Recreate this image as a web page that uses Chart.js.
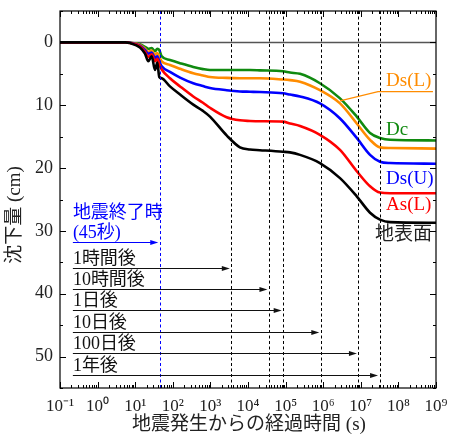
<!DOCTYPE html>
<html>
<head>
<meta charset="utf-8">
<script src="https://cdn.jsdelivr.net/npm/chart.js@4.4.0/dist/chart.umd.min.js"></script>
<style>
	html, body { margin: 0; padding: 0; background: #fff; }
	#wrap { width: 454px; height: 439px; }
</style>
</head>
<body>
<div id="wrap"><canvas id="chart" width="454" height="439"></canvas></div>
<script>
// elapsed time since the quake (s) and settlement (cm) of each layer
const times = [0.1, 5.4, 7.3, 13.4, 18.2, 22.3, 27.5, 33.6, 38.7, 43.7, 50.7, 84, 156, 350, 635, 975, 2700, 6100, 11300, 20700, 85000, 131000, 242000, 818000, 2.8e6, 7.8e6, 1.76e7, 3.24e7, 6e7, 1e9];
const surface = [0, 0, 0.1, 0.8, 1.8, 3.0, 2.2, 4.4, 3.2, 5.5, 5.7, 7.0, 8.3, 9.9, 10.9, 11.8, 14.8, 16.7, 17.05, 17.15, 17.4, 17.5, 17.9, 19.2, 21.6, 24.5, 27.1, 28.2, 28.6, 28.7];
const asL = [0, 0, 0.1, 0.6, 1.5, 2.3, 1.9, 3.0, 2.6, 3.5, 4.3, 5.7, 7.0, 8.6, 9.6, 10.4, 11.9, 12.4, 12.5, 12.55, 12.6, 12.9, 13.3, 14.7, 17.1, 20.5, 22.9, 23.9, 24.0, 24.0];
const dsU = [0, 0, 0.05, 0.5, 1.2, 1.8, 1.6, 2.5, 2.2, 3.0, 3.8, 4.7, 5.6, 6.5, 6.95, 7.25, 7.6, 7.8, 7.85, 7.9, 8.1, 8.3, 8.6, 9.7, 12.1, 15.2, 17.9, 19.0, 19.2, 19.3];
const dsL = [0, 0, 0.05, 0.4, 1.0, 1.5, 1.3, 2.0, 1.7, 2.3, 3.0, 3.6, 4.2, 4.9, 5.25, 5.5, 5.65, 5.7, 5.7, 5.7, 5.9, 6.0, 6.25, 7.6, 9.7, 12.9, 15.5, 16.7, 16.8, 16.9];
const dc = [0, 0, 0.05, 0.3, 0.7, 1.0, 0.9, 1.4, 1.0, 1.2, 2.2, 2.8, 3.3, 3.9, 4.25, 4.4, 4.4, 4.4, 4.4, 4.45, 4.6, 4.8, 5.0, 6.5, 8.9, 11.8, 14.4, 15.2, 15.5, 15.6];

const seriesNames = ["地表面", "As(L)", "Ds(U)", "Ds(L)", "Dc"];
const seriesValues = [surface, asL, dsU, dsL, dc];
const seriesColors = ["#000000", "#ff0000", "#0000ff", "#ff8c00", "#108a10"];

// reference moments: end of shaking, 1 h, 10 h, 1 day, 10 days, 100 days, 1 year
const markTimes = [45, 3600, 36000, 86400, 864000, 8640000, 31536000];
const markLabels = [["地震終了時", "(45秒)"], ["1時間後"], ["10時間後"], ["1日後"], ["10日後"], ["100日後"], ["1年後"]];
const arrowDepths = [31.8, 35.9, 39.3, 42.65, 46.1, 49.5, 52.9];
const arrowStart = 0.22;

const yTickValues = [0, 10, 20, 30, 40, 50];

const FONT = '"Liberation Serif", "Noto Sans CJK JP", serif';
const SUP = { "-": "⁻", "0": "⁰", "1": "¹", "2": "²", "3": "³", "4": "⁴", "5": "⁵", "6": "⁶", "7": "⁷", "8": "⁸", "9": "⁹" };

function isDecade(v) {
	const l = Math.log10(v);
	return Math.abs(l - Math.round(l)) < 1e-9;
}

// where the curve names sit: [time (s), depth (cm)]
const nameAnchors = [[2.4e7, 30.6], [4.7e7, 25.8], [4.7e7, 21.7], [4.7e7, 6.2], [4.7e7, 13.9]];

const overlay = {
	id: "overlay",
	beforeDatasetsDraw(chart) {
		const { ctx, chartArea: a, scales: { y } } = chart;
		ctx.save();
		ctx.strokeStyle = "#555";
		ctx.lineWidth = 1.5;
		const y0 = y.getPixelForValue(0);
		ctx.beginPath();
		ctx.moveTo(a.left, y0);
		ctx.lineTo(a.right, y0);
		ctx.stroke();
		ctx.restore();
	},
	afterDatasetsDraw(chart) {
		const { ctx, chartArea: a, scales: { x, y } } = chart;
		ctx.save();

		// dashed vertical lines
		ctx.lineWidth = 1;
		ctx.setLineDash([3, 2.5]);
		markTimes.forEach((t, i) => {
			const px = Math.round(x.getPixelForValue(t)) + 0.5;
			ctx.strokeStyle = i === 0 ? "#0000ff" : "#000";
			ctx.beginPath();
			ctx.moveTo(px, a.top);
			ctx.lineTo(px, a.bottom);
			ctx.stroke();
		});
		ctx.setLineDash([]);

		// arrows and their labels
		const x0 = x.getPixelForValue(arrowStart);
		ctx.font = `18px ${FONT}`;
		ctx.textAlign = "left";
		ctx.textBaseline = "middle";
		markTimes.forEach((t, i) => {
			const col = i === 0 ? "#0000ff" : "#111";
			const x1 = x.getPixelForValue(t) - 1.5;
			const py = Math.round(y.getPixelForValue(arrowDepths[i])) + 0.5;
			ctx.strokeStyle = col;
			ctx.fillStyle = col;
			ctx.beginPath();
			ctx.moveTo(x0, py);
			ctx.lineTo(x1 - 5, py);
			ctx.stroke();
			ctx.beginPath();
			ctx.moveTo(x1, py);
			ctx.lineTo(x1 - 8, py - 2.5);
			ctx.lineTo(x1 - 8, py + 2.5);
			ctx.closePath();
			ctx.fill();
			const lines = markLabels[i];
			lines.forEach((s, j) => {
				ctx.fillText(s, x0, py - 9.5 - (lines.length - 1 - j) * 20);
			});
		});

		// curve names
		ctx.font = `19px ${FONT}`;
		seriesNames.forEach((name, i) => {
			const [t, d] = nameAnchors[i];
			ctx.fillStyle = i === 0 ? "#222" : seriesColors[i];
			ctx.fillText(name, x.getPixelForValue(t), y.getPixelForValue(d));
		});

		// leader line for Ds(L)
		ctx.strokeStyle = seriesColors[3];
		ctx.lineWidth = 1.2;
		ctx.beginPath();
		ctx.moveTo(x.getPixelForValue(2.8e6), y.getPixelForValue(9.3));
		ctx.lineTo(x.getPixelForValue(2.87e7), y.getPixelForValue(7.84));
		ctx.lineTo(x.getPixelForValue(8.3e8), y.getPixelForValue(7.84));
		ctx.stroke();

		// frame and inward ticks
		ctx.strokeStyle = "#000";
		ctx.lineWidth = 1.2;
		ctx.strokeRect(a.left, a.top, a.right - a.left, a.bottom - a.top);
		ctx.lineWidth = 1;
		ctx.beginPath();
		x.ticks.forEach((tk) => {
			const px = Math.round(x.getPixelForValue(tk.value)) + 0.5;
			const len = isDecade(tk.value) ? 6 : 3;
			ctx.moveTo(px, a.bottom);
			ctx.lineTo(px, a.bottom - len);
			ctx.moveTo(px, a.top);
			ctx.lineTo(px, a.top + len);
		});
		y.ticks.forEach((tk) => {
			const py = Math.round(y.getPixelForValue(tk.value)) + 0.5;
			const len = tk.value % 10 === 0 ? 6 : 3;
			ctx.moveTo(a.left, py);
			ctx.lineTo(a.left + len, py);
			ctx.moveTo(a.right, py);
			ctx.lineTo(a.right - len, py);
		});
		ctx.stroke();

		// axis titles
		ctx.fillStyle = "#222";
		ctx.font = `19px ${FONT}`;
		ctx.textAlign = "center";
		ctx.fillText("地震発生からの経過時間 (s)", (a.left + a.right) / 2 + 1, 425);
		ctx.translate(15, 215);
		ctx.rotate(-Math.PI / 2);
		ctx.fillText("沈下量 (cm)", 0, 0);

		ctx.restore();
	},
};

new Chart(document.getElementById("chart"), {
	type: "line",
	data: {
		datasets: seriesNames.map((name, i) => ({
			label: name,
			data: times.map((t, k) => ({ x: t, y: seriesValues[i][k] })),
			borderColor: seriesColors[i],
			borderWidth: 2.6,
			pointRadius: 0,
			cubicInterpolationMode: "monotone",
			fill: false,
		})),
	},
	options: {
		responsive: false,
		animation: false,
		layout: { padding: { top: 11, right: 18, left: 0, bottom: 0 } },
		plugins: { legend: { display: false }, tooltip: { enabled: false } },
		scales: {
			x: {
				type: "logarithmic",
				min: 0.1,
				max: 1e9,
				grid: { display: false, drawTicks: false },
				border: { display: false },
				afterBuildTicks(scale) {
					const ticks = [];
					for (let k = -1; k < 9; k++) {
						for (let m = 1; m < 10; m++) ticks.push({ value: m * Math.pow(10, k) });
					}
					ticks.push({ value: 1e9 });
					scale.ticks = ticks;
				},
				afterFit(scale) {
					scale.height = 51;
					scale.paddingLeft = 0;
					scale.paddingRight = 0;
				},
				ticks: {
					autoSkip: false,
					maxRotation: 0,
					padding: 8,
					color: "#222",
					font: { family: FONT, size: 17 },
					callback(v) {
						if (!isDecade(v)) return "";
						const e = String(Math.round(Math.log10(v)));
						return "10" + e.split("").map((c) => SUP[c]).join("");
					},
				},
			},
			y: {
				type: "linear",
				reverse: true,
				min: -5,
				max: 55,
				grid: { display: false, drawTicks: false },
				border: { display: false },
				afterFit(scale) {
					scale.width = 60;
					scale.paddingTop = 0;
					scale.paddingBottom = 0;
				},
				ticks: {
					stepSize: 5,
					padding: 7,
					color: "#222",
					font: { family: FONT, size: 18 },
					callback(v) {
						return yTickValues.includes(v) ? String(v) : "";
					},
				},
			},
		},
	},
	plugins: [overlay],
});
</script>
</body>
</html>
